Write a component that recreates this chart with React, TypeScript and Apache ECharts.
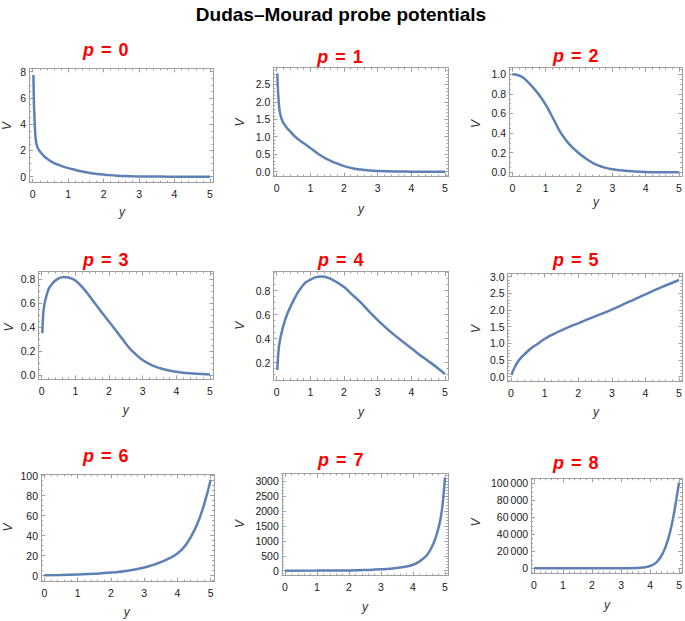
import { useEffect, useRef } from "react";
import * as echarts from "echarts";

// ---------- data ----------
const panelNames = ["0", "1", "2", "3", "4", "5", "6", "7", "8"];
const xTicks = [0, 1, 2, 3, 4, 5];

const curveP0 = [[0.02, 7.75], [0.035, 5.6], [0.047, 4.7], [0.066, 3.55], [0.085, 2.85], [0.11, 2.45], [0.15, 2.15], [0.21, 1.9], [0.3, 1.62], [0.39, 1.4], [0.58, 1.07], [0.75, 0.88], [0.96, 0.69], [1.2, 0.52], [1.43, 0.38], [1.65, 0.27], [1.9, 0.18], [2.15, 0.12], [2.37, 0.08], [2.6, 0.05], [2.84, 0.03], [3.2, 0.015], [3.6, 0.007], [4.0, 0.003], [4.5, 0.001], [5.0, 0.0]];
const curveP1 = [[0.02, 2.81], [0.04, 2.3], [0.07, 1.9], [0.1, 1.67], [0.15, 1.5], [0.2, 1.4], [0.3, 1.26], [0.42, 1.13], [0.55, 1.0], [0.75, 0.85], [1.0, 0.68], [1.25, 0.5], [1.5, 0.36], [1.75, 0.25], [2.0, 0.16], [2.25, 0.1], [2.5, 0.06], [2.75, 0.035], [3.0, 0.02], [3.5, 0.006], [4.0, 0.002], [5.0, 0.0]];
const curveP2 = [[0.0, 1.0], [0.25, 0.98], [0.5, 0.91], [0.78, 0.8], [1.0, 0.69], [1.13, 0.61], [1.3, 0.5], [1.46, 0.4], [1.7, 0.29], [1.98, 0.2], [2.25, 0.13], [2.5, 0.08], [2.75, 0.05], [3.0, 0.03], [3.5, 0.012], [4.0, 0.004], [4.5, 0.001], [5.0, 0.0]];
const curveP3 = [[0.02, 0.35], [0.04, 0.48], [0.07, 0.57], [0.15, 0.67], [0.25, 0.74], [0.45, 0.8], [0.66, 0.82], [0.85, 0.81], [1.0, 0.79], [1.25, 0.72], [1.58, 0.6], [1.85, 0.5], [2.13, 0.4], [2.4, 0.3], [2.67, 0.205], [3.0, 0.125], [3.25, 0.085], [3.5, 0.058], [3.75, 0.04], [4.0, 0.027], [4.5, 0.012], [5.0, 0.005]];
const curveP4 = [[0.02, 0.14], [0.05, 0.28], [0.1, 0.39], [0.25, 0.556], [0.45, 0.69], [0.74, 0.83], [0.99, 0.89], [1.34, 0.917], [1.63, 0.894], [2.0, 0.83], [2.25, 0.765], [2.5, 0.7], [2.75, 0.625], [3.0, 0.555], [3.25, 0.49], [3.5, 0.43], [3.75, 0.375], [4.0, 0.32], [4.25, 0.265], [4.5, 0.215], [4.75, 0.162], [5.0, 0.105]];
const curveP5 = [[0.02, 0.05], [0.05, 0.15], [0.1, 0.26], [0.2, 0.44], [0.3, 0.57], [0.4, 0.67], [0.6, 0.85], [0.8, 0.99], [1.0, 1.13], [1.25, 1.27], [1.5, 1.39], [1.75, 1.5], [2.0, 1.6], [2.5, 1.81], [3.0, 2.01], [3.5, 2.24], [4.0, 2.47], [4.5, 2.69], [5.0, 2.9]];
const curveP6 = [[0.0, 0.4], [0.5, 0.7], [1.0, 1.2], [1.5, 1.9], [2.0, 3.1], [2.5, 5.0], [3.0, 8.2], [3.25, 10.6], [3.5, 13.6], [3.75, 17.4], [4.0, 22.3], [4.2, 28.6], [4.4, 38.5], [4.6, 52.0], [4.8, 71.0], [5.0, 96.0]];
const curveP7 = [[0.0, 0], [1.0, 3], [2.0, 10], [2.5, 22], [3.0, 45], [3.5, 90], [3.75, 135], [4.0, 200], [4.2, 310], [4.4, 480], [4.5, 620], [4.6, 820], [4.7, 1080], [4.8, 1450], [4.85, 1680], [4.9, 2000], [4.95, 2480], [5.0, 3110]];
const curveP8 = [[0.0, 0], [2.0, 10], [3.0, 100], [3.5, 400], [3.75, 1000], [4.0, 2700], [4.25, 8000], [4.47, 20000], [4.58, 30000], [4.67, 40000], [4.8, 60000], [4.9, 80000], [5.0, 101000]];
const curves = [curveP0, curveP1, curveP2, curveP3, curveP4, curveP5, curveP6, curveP7, curveP8];

const yTicksP0 = [0, 2, 4, 6, 8];
const yTicksP1 = [0, 0.5, 1, 1.5, 2, 2.5];
const yTicksP2 = [0, 0.2, 0.4, 0.6, 0.8, 1.0];
const yTicksP3 = [0, 0.2, 0.4, 0.6, 0.8];
const yTicksP4 = [0.2, 0.4, 0.6, 0.8];
const yTicksP5 = [0, 0.5, 1, 1.5, 2, 2.5, 3];
const yTicksP6 = [0, 20, 40, 60, 80, 100];
const yTicksP7 = [0, 500, 1000, 1500, 2000, 2500, 3000];
const yTicksP8 = [0, 20000, 40000, 60000, 80000, 100000];
const yTicks = [yTicksP0, yTicksP1, yTicksP2, yTicksP3, yTicksP4, yTicksP5, yTicksP6, yTicksP7, yTicksP8];
const yMinorSteps = [0.5, 0.1, 0.05, 0.05, 0.05, 0.1, 5, 100, 5000];
const yDecimals = [0, 1, 1, 1, 1, 1, 0, 0, 0];
const yRanges = [[-0.457, 8.259], [-0.143, 2.975], [-0.045, 1.067], [-0.036, 0.864], [0.056, 0.958], [-0.15, 3.1], [-6, 101.4], [-167, 3257], [-5882, 105882]];
const xRange = [-0.1, 5.1];
const xMinorStep = 0.2;

// ---------- layout ----------
const grids = [
  { left: 29.15, top: 68.3, width: 184.4, height: 114.4 },
  { left: 273.3, top: 67.7, width: 175.1, height: 109 },
  { left: 509.0, top: 67.7, width: 173.3, height: 109 },
  { left: 38.3, top: 271.7, width: 175.1, height: 107.6 },
  { left: 273.3, top: 271.7, width: 175.1, height: 108.3 },
  { left: 507.6, top: 273.3, width: 174.8, height: 108.4 },
  { left: 41.0, top: 474.3, width: 173, height: 107.4 },
  { left: 281.8, top: 473.3, width: 166.4, height: 102.4 },
  { left: 531.1, top: 478.3, width: 152.5, height: 95 },
];
const titlePos = [[105.8, 50], [340, 56.5], [575.8, 56], [105.8, 259.7], [340.8, 259.7], [575.8, 260.3], [105.8, 456.3], [340.8, 459.7], [575.8, 463]];
const vNamePos = [[7, 126], [240, 122.5], [475.7, 124], [8.5, 327.5], [240, 325.8], [475.7, 329], [7.5, 527.5], [240, 524], [475.7, 522.5]];
const yNamePos = [[122, 211.7], [361, 208.7], [596, 201.7], [125.8, 410], [361, 411.7], [596, 411.7], [126.7, 611.7], [365, 606.7], [607, 604.7]];

const FONT = "'Liberation Sans', Arial, sans-serif";
const FRAME = "#a0a0a0";
const LABEL = "#1a1a1a";
const LINE = "#5E81B5";

function minorValues(min: number, max: number, step: number, majors: number[]) {
  const out: number[] = [];
  const start = Math.ceil(min / step - 1e-9);
  const end = Math.floor(max / step + 1e-9);
  for (let k = start; k <= end; k++) {
    const v = Math.round(k * step * 1e6) / 1e6;
    if (!majors.some((m) => Math.abs(m - v) < step * 1e-3)) out.push(v);
  }
  return out;
}

function fmtY(v: number, d: number) {
  if (d > 0) return v.toFixed(d);
  const s = String(Math.round(v));
  if (Math.abs(v) >= 10000) return s.replace(/\B(?=(\d{3})+(?!\d))/g, "\u2009");
  return s;
}

function buildOption() {
  const xAxis: any[] = [];
  const yAxis: any[] = [];
  const series: any[] = [];
  const graphic: any[] = [];

  grids.forEach((_, i) => {
    const xMin = minorValues(xRange[0], xRange[1], xMinorStep, xTicks);
    const yMaj = yTicks[i];
    const yMin = minorValues(yRanges[i][0], yRanges[i][1], yMinorSteps[i], yMaj);
    const baseX = { type: "value", gridIndex: i, min: xRange[0], max: xRange[1], splitLine: { show: false } };
    const baseY = { type: "value", gridIndex: i, min: yRanges[i][0], max: yRanges[i][1], splitLine: { show: false } };
    const lineOn = { show: true, onZero: false, lineStyle: { color: FRAME, width: 1 } };
    const lineOff = { show: false, onZero: false };
    const labelOff = { show: false };
    const majTick = (vals: number[]) => ({ show: true, inside: true, length: 4, customValues: vals, lineStyle: { color: FRAME, width: 1 } });
    const minTick = (vals: number[]) => ({ show: true, inside: true, length: 2, customValues: vals, lineStyle: { color: FRAME, width: 1 } });

    xAxis.push({
      ...baseX, position: "bottom", axisLine: lineOn, axisTick: majTick(xTicks),
      axisLabel: { show: true, customValues: xTicks, margin: 6, color: LABEL, fontSize: 10.5, fontFamily: FONT, formatter: (v: number) => String(Math.round(v)) },
    });
    xAxis.push({ ...baseX, position: "top", axisLine: lineOn, axisTick: majTick(xTicks), axisLabel: labelOff });
    xAxis.push({ ...baseX, position: "bottom", axisLine: lineOff, axisTick: minTick(xMin), axisLabel: labelOff });
    xAxis.push({ ...baseX, position: "top", axisLine: lineOff, axisTick: minTick(xMin), axisLabel: labelOff });

    const d = yDecimals[i];
    yAxis.push({
      ...baseY, position: "left", axisLine: lineOn, axisTick: majTick(yMaj),
      axisLabel: { show: true, customValues: yMaj, margin: 3, color: LABEL, fontSize: 10.5, fontFamily: FONT, formatter: (v: number) => fmtY(v, d) },
    });
    yAxis.push({ ...baseY, position: "right", axisLine: lineOn, axisTick: majTick(yMaj), axisLabel: labelOff });
    yAxis.push({ ...baseY, position: "left", axisLine: lineOff, axisTick: minTick(yMin), axisLabel: labelOff });
    yAxis.push({ ...baseY, position: "right", axisLine: lineOff, axisTick: minTick(yMin), axisLabel: labelOff });

    series.push({
      type: "line", xAxisIndex: i * 4, yAxisIndex: i * 4, data: curves[i], showSymbol: false,
      smooth: 0.5, lineStyle: { color: LINE, width: 2.5 }, itemStyle: { color: LINE },
    });

    graphic.push({
      type: "text", x: titlePos[i][0], y: titlePos[i][1],
      style: {
        text: `{i|p} {e|=} {n|${panelNames[i]}}`, align: "center", verticalAlign: "middle",
        fill: "#ff0000", font: `bold 18px ${FONT}`,
        rich: {
          i: { fill: "#ff0000", fontStyle: "italic", fontWeight: "bold", fontSize: 18, fontFamily: FONT },
          e: { fill: "#ff0000", fontWeight: "bold", fontSize: 18, fontFamily: FONT, padding: [0, 2, 0, 2] },
          n: { fill: "#ff0000", fontWeight: "bold", fontSize: 18, fontFamily: FONT },
        },
      },
    });
    graphic.push({
      type: "text", x: vNamePos[i][0], y: vNamePos[i][1], rotation: Math.PI / 2,
      style: { text: "V", align: "center", verticalAlign: "middle", fill: "#333", font: `italic 12px ${FONT}` },
    });
    graphic.push({
      type: "text", x: yNamePos[i][0], y: yNamePos[i][1],
      style: { text: "y", align: "center", verticalAlign: "middle", fill: "#333", font: `italic 12px ${FONT}` },
    });
  });

  graphic.push({
    type: "text", x: 341, y: 14,
    style: { text: "Dudas\u2013Mourad probe potentials", align: "center", verticalAlign: "middle", fill: "#000", font: `bold 19px ${FONT}` },
  });

  return {
    animation: false,
    backgroundColor: "#ffffff",
    grid: grids.map((g) => ({ ...g, containLabel: false, show: false })),
    xAxis, yAxis, series, graphic,
  };
}

export default function App() {
  const ref = useRef<HTMLDivElement>(null);
  useEffect(() => {
    if (!ref.current) return;
    const chart = echarts.init(ref.current, null, { renderer: "svg" });
    chart.setOption(buildOption() as any);
    return () => chart.dispose();
  }, []);
  return <div ref={ref} style={{ position: "absolute", left: 0, top: 0, width: 685, height: 621 }} />;
}
